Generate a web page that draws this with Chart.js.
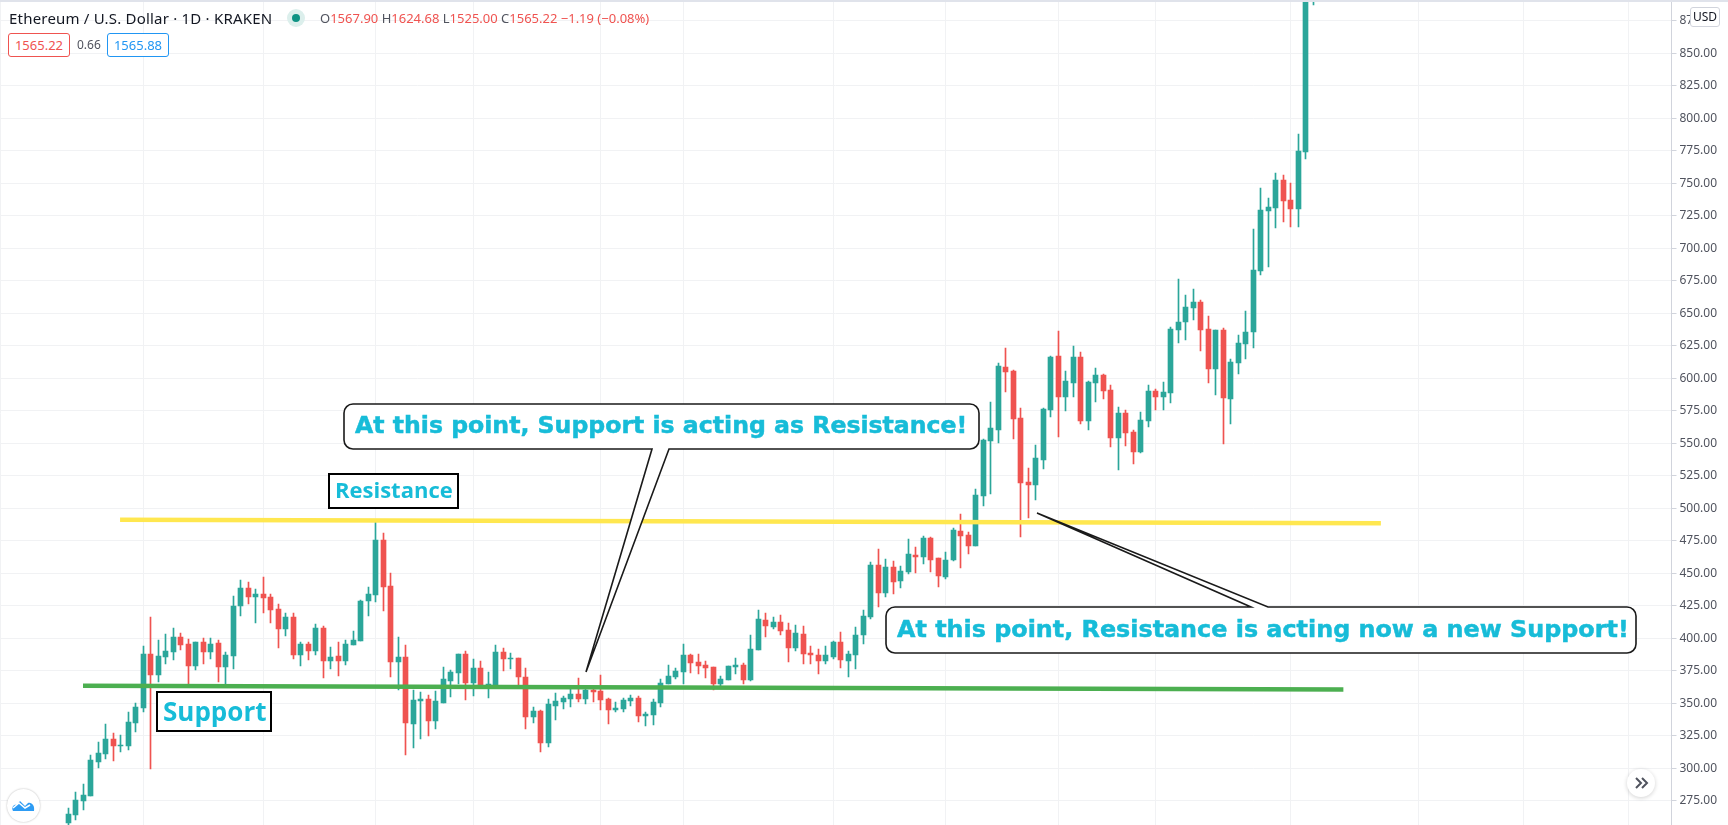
<!DOCTYPE html>
<html>
<head>
<meta charset="utf-8">
<title>Ethereum / U.S. Dollar</title>
<script src="https://cdn.jsdelivr.net/npm/chart.js@4"></script>
<style>
  html, body { margin: 0; padding: 0; background: #fff; }
  body { width: 1728px; height: 825px; overflow: hidden; position: relative; font-family: "Noto Sans", sans-serif; }
  #chart { position: absolute; left: 0; top: 0; }
  #topline { position: absolute; left: 0; top: 0; width: 1728px; height: 2px; background: #e0e3eb; }
  .hdr { position: absolute; white-space: nowrap; font-size: 13px; line-height: 18px; }
  #title { left: 9px; top: 9px; color: #131722; font-size: 15px; letter-spacing: .2px; }
  #ohlc { left: 320px; top: 9px; color: #ef5350; font-size: 13px; }
  #ohlc i { font-style: normal; color: #50535e; }
  #dot { position: absolute; left: 287px; top: 9px; width: 18px; height: 18px; border-radius: 50%; background: #dcefec; }
  #dot::after { content: ""; position: absolute; left: 5px; top: 5px; width: 8px; height: 8px; border-radius: 50%; background: #0f9384; }
  .quote { position: absolute; top: 33px; width: 60px; height: 22px; border: 1px solid; border-radius: 3px; text-align: center; font-size: 13px; line-height: 22px; background: #fff; }
  #bid { left: 8px; color: #ef5350; border-color: #ef5350; }
  #ask { left: 107px; color: #2196f3; border-color: #2196f3; }
  #spread { left: 77px; top: 36px; color: #50535e; font-size: 12px; }
  #usd { position: absolute; left: 1690px; top: 7px; width: 28px; height: 18px; border: 1px solid #d1d4dc; border-radius: 3px; background: #fff; color: #131722; font-size: 12px; line-height: 18px; text-align: center; }
  #logo { position: absolute; left: 7px; top: 789px; width: 33px; height: 33px; border-radius: 50%; background: #fff; box-shadow: 0 0 2px rgba(0,0,0,.3); }
  #more { position: absolute; left: 1627px; top: 769px; width: 28px; height: 28px; border-radius: 50%; background: #fff; box-shadow: 0 1px 4px rgba(0,0,0,.18); }
  svg { position: absolute; left: 0; top: 0; }
</style>
</head>
<body>
<canvas id="chart" width="1728" height="825"></canvas>
<div id="topline"></div>
<div class="hdr" id="title">Ethereum / U.S. Dollar · 1D · KRAKEN</div>
<div id="dot"></div>
<div class="hdr" id="ohlc"><i>O</i>1567.90 <i>H</i>1624.68 <i>L</i>1525.00 <i>C</i>1565.22 −1.19 (−0.08%)</div>
<div class="quote" id="bid">1565.22</div>
<div class="hdr" id="spread">0.66</div>
<div class="quote" id="ask">1565.88</div>
<div id="usd">USD</div>
<div id="logo"><svg width="33" height="33" viewBox="0 0 33 33"><path d="M6 22 C4 18 7 15 10 16 L13 12 L18 17 L21 14 C25 13 28 17 27 22 Z" fill="#2e9cf4"/><path d="M6 19 L12 14 L18 19 L23 16" fill="none" stroke="#fff" stroke-width="1.6"/></svg></div>
<div id="more"><svg width="28" height="28" viewBox="0 0 28 28"><path d="M9 9 L14 14 L9 19 M15 9 L20 14 L15 19" fill="none" stroke="#50535e" stroke-width="2"/></svg></div>

<script>
// Daily candles (the first and the last two run off the chart)
const opens = [258,264.3,275.1,278.9,305,311.2,322.7,317.3,317.3,335,346.6,388.1,372,385.8,389.6,401.1,395.8,378.8,397.3,389.6,
  396.5,378,386.5,425,438.8,431.9,434.2,431.9,422.6,407.3,416.5,387.3,395.8,390.4,408,382.7,386.5,382.7,395,398,
  428.8,433.4,475.7,440.3,381.9,385.8,334.3,351.9,353.5,336.6,350.4,367.3,373.5,388.1,365.8,377.3,363.5,364.2,389.6,384.2,
  385,370.4,339.6,344.2,319.7,348.1,351.2,353.5,357.3,353.5,360.4,359.6,353.5,345,345.8,351.9,354.2,340.4,341.2,350.4,
  365,370.4,374.2,387.3,381.9,379.6,378,365,368.1,378,379.6,368.1,391.1,414.2,408.8,412.7,406.5,392.7,403.4,388.8,
  387.3,382.7,385.8,397.3,382.7,387.3,402.7,416.5,456.5,435,454.9,444.2,451.1,464.2,462.6,477.2,461.9,447.3,460.3,482.6,
  479.5,471.1,509.5,551.8,560.2,608.7,605.6,569.5,520.3,518,537.2,575.6,617.1,585.6,596.4,616.3,567.2,596.4,602.5,591,
  554.1,573.3,558.7,543.3,567.2,590.2,585.6,588.6,637,643.2,654,658.6,637.8,607.1,637,584,611.7,626.3,635.5,682.4,
  728.5,730.8,752.3,737,730.1,773.9,895];
const highs = [269.4,281.7,288.1,310.4,320.4,334,327.3,325.8,343.2,350.1,394.2,416.5,398.8,403.4,408,404.2,399.6,397.3,400.4,400.4,
  398.8,389.6,432.6,444.9,443.4,438,447.2,434.2,426.5,419.6,419.6,397.3,397.3,411.1,409.6,393.4,397.3,398.8,405.7,429.6,
  439.6,489.5,481,450.3,401.1,395,360.4,358.9,356.6,359.6,378,375.8,388.1,390.4,384.2,382.7,374.2,395,392.7,388.8,
  385,377.3,347.3,345,353.5,358.1,355.8,361.9,369.6,361.2,361.2,371.9,354.2,351.2,354.2,356.6,355.8,343.5,353.5,368.8,
  379.6,377.3,395.8,388.1,388.1,382.7,378,371.2,378.8,385,381.1,402.7,421.9,419.6,416.5,418,411.9,410.4,409.6,394.2,
  391.9,394.2,398,405,390.4,408.8,421.9,458.8,468.8,461.1,459.5,455.7,476.5,470.3,478.8,478,461.9,466.5,484.9,495.7,
  481.8,514.9,553.3,581.8,611.7,623.3,606.4,577.1,531,548.7,577.1,617.1,636.3,605.6,624.8,620.2,597.9,607.9,603.3,594.8,
  577.9,575.6,560.2,574.1,594.8,591.8,597.1,639.4,676.3,664,668.6,660.1,647.8,637,638.6,614.8,633.2,651.7,714.7,746.2,
  738.5,757.7,756.2,750,787.7,900,910];
const lows = [255,260,268.2,278.9,300,307.4,305.8,312.7,314.3,328.1,343.5,299.7,366.5,380.4,383.5,391.1,362.4,375.8,380.4,384.2,
  366.5,364.2,376.5,417.3,426.5,411.9,419.6,411.9,392.7,401.9,384.2,378.8,383.5,387.3,369.6,376.5,371.2,379.6,395,398,
  417.3,428,421.1,370.4,360.4,310.4,315.8,322.7,325,330.4,350.4,355,365,352.7,355.8,361.9,354.2,361.9,375,376.5,
  364.2,330.4,335,312.7,316.6,337.3,345.8,347.3,351.2,349.6,351.2,345,334.3,343.5,343.5,348.1,335.8,332.7,333.5,347.3,
  365,368.8,365,373.5,372.7,369.6,360.4,362.7,368.1,372.7,365,367.3,391.1,401.1,407.3,402.7,382,390.4,380.4,380.4,
  372.7,380.4,384.2,377.3,370.4,376.5,395.8,415,424.2,431.9,434.2,438.8,449.6,450.3,457.2,451.1,439.6,445.7,459.5,454.2,
  465,471.1,501.8,511.1,550.3,589.4,553.3,478,492.6,506.4,530.3,570.2,554.9,574.8,585.6,564.8,560.2,581.8,584.1,547.2,
  529.5,547.9,534.1,542.6,562.5,575.6,575.6,581,627,629.4,644.7,620.9,596.3,587.1,549.4,564.8,603.2,614.8,623.2,679.3,
  685.5,715.5,720.1,716.2,716.2,768.5,887.6];
const closes = [265.1,275.8,279.7,306.6,311.7,322.7,317.3,318.1,335.8,347.3,388.1,372,386.5,390.4,401.1,395,378.8,397.3,389.6,395.8,
  378,387.3,425,438.8,431.9,434.2,431.1,421.9,407.3,416.5,387.3,395.8,390.4,408,382.7,385.8,382.7,395.8,398.8,428.8,
  434.2,475.7,439.6,381.9,385.8,335,352.7,353.5,336.6,351.9,368.8,374.2,388.1,365.8,377.3,363.5,365,389.6,384.2,385,
  370.4,339.6,344.2,319.7,349.6,351.9,354.2,357.3,353.5,360.4,358.9,352.7,345,346.6,352.7,354.2,340.4,341.9,351.2,365.8,
  371.2,375,387.3,381.1,378.8,377.3,365,368.8,378.8,379.6,368.1,391.9,415,409.6,412.7,405.7,392.7,404.2,388.1,387.3,
  382.7,387.3,397.3,383.5,388.1,402.7,417.3,456.5,435,454.9,443.4,451.9,465,462.6,477.2,460.3,448,460.3,483.4,478.8,
  471.1,510.3,552.5,561.8,609.4,604.8,568.7,519.5,518,538.7,576.4,616.3,585.6,597.9,616.3,567.2,597.1,602.5,590.2,554.1,
  573.3,557.9,543.3,567.9,590.2,585.6,589.4,637.8,643.2,654.7,658.6,637,607.1,637,584.8,612.5,627.1,635.5,683.2,729.3,
  731.6,752.3,736.2,730.1,774.6,895,905];

// Candle positions of the vertical grid lines (month and week marks)
const timeGrid = [-9,10,26,41,54,71,82,102,117,132,145,163,180,194,208];
const priceTicks = [275,300,325,350,375,400,425,450,475,500,525,550,575,600,625,650,675,700,725,750,775,800,825,850,875];

// Hand drawn trend lines [candle position, price]
const resistanceLine = [[6.9,491.3],[175,488.7]];
const supportLine = [[1.96,363.6],[170,360.7]];

const GREEN = "#2ba69a", RED = "#ef5350", TEAL = "#17bcd8", GRID = "#f1f2f4";
const candleColor = opens.map((o, i) => (closes[i] >= o ? GREEN : RED));

const wicks = lows.map((l, i) => ({ x: i, y: [l, highs[i]] }));
const bodies = opens.map((o, i) => ({ x: i, y: [o, closes[i]] }));
const toPoints = (line) => line.map((p) => ({ x: p[0], y: p[1] }));

// Keep candles on whole pixels like the original
const snapCandles = {
  id: "snapCandles",
  beforeDatasetsDraw(chart) {
    chart.data.datasets.forEach((ds, idx) => {
      if (ds.type === "line") return;
      chart.getDatasetMeta(idx).data.forEach((el) => {
        el.x = Math.floor(el.x) + 0.5;
        el.y = Math.round(el.y);
        el.base = Math.round(el.base);
        if (el.y === el.base) el.base += 1;
      });
    });
  },
};

function callout(ctx, box, tail, text, font, textX, baseline) {
  const { l, t, r, b } = box;
  const rad = 9;
  ctx.beginPath();
  ctx.moveTo(l + rad, t);
  if (tail.side === "top") {
    ctx.lineTo(tail.a, t);
    ctx.lineTo(tail.tipX, tail.tipY);
    ctx.lineTo(tail.b, t);
  }
  ctx.arcTo(r, t, r, b, rad);
  ctx.arcTo(r, b, l, b, rad);
  if (tail.side === "bottom") {
    ctx.lineTo(tail.b, b);
    ctx.lineTo(tail.tipX, tail.tipY);
    ctx.lineTo(tail.a, b);
  }
  ctx.arcTo(l, b, l, t, rad);
  ctx.arcTo(l, t, r, t, rad);
  ctx.closePath();
  ctx.fillStyle = "#fff";
  ctx.fill();
  ctx.strokeStyle = "#1a1a1a";
  ctx.lineWidth = 1.6;
  ctx.stroke();
  ctx.fillStyle = TEAL;
  ctx.strokeStyle = TEAL;
  ctx.lineWidth = 0.5;
  ctx.font = font;
  ctx.textAlign = "left";
  ctx.textBaseline = "alphabetic";
  ctx.fillText(text, textX, baseline);
  ctx.strokeText(text, textX, baseline);
}

function label(ctx, box, text, font, textX, baseline) {
  ctx.fillStyle = "#fff";
  ctx.fillRect(box.l, box.t, box.r - box.l, box.b - box.t);
  ctx.strokeStyle = "#000";
  ctx.lineWidth = 2;
  ctx.strokeRect(box.l, box.t, box.r - box.l, box.b - box.t);
  ctx.fillStyle = TEAL;
  ctx.font = font;
  ctx.textAlign = "left";
  ctx.textBaseline = "alphabetic";
  ctx.fillText(text, textX, baseline);
}

// Notes drawn on top of the chart
const notes = {
  id: "notes",
  afterDatasetsDraw(chart) {
    const ctx = chart.ctx;
    ctx.save();
    callout(ctx, { l: 344, t: 404, r: 979, b: 449 }, { side: "bottom", a: 652, b: 669, tipX: 586, tipY: 672 },
      "At this point, Support is acting as Resistance!", 'bold 23.6px "DejaVu Sans"', 355, 433);
    callout(ctx, { l: 886, t: 607, r: 1636, b: 653 }, { side: "top", a: 1251, b: 1268, tipX: 1037, tipY: 513 },
      "At this point, Resistance is acting now a new Support!", 'bold 23.85px "DejaVu Sans"', 897, 637);
    label(ctx, { l: 329, t: 474, r: 458, b: 508 }, "Resistance", 'bold 22px "Open Sans"', 335, 498);
    label(ctx, { l: 157, t: 692, r: 271, b: 731 }, "Support", 'bold 26px "Open Sans"', 163, 721);
    ctx.restore();
  },
};

new Chart(document.getElementById("chart"), {
  type: "bar",
  data: {
    datasets: [
      { label: "High-Low", data: wicks, backgroundColor: candleColor, barThickness: 1, grouped: false, order: 3 },
      { label: "Open-Close", data: bodies, backgroundColor: candleColor, barThickness: 5, grouped: false, order: 2 },
      { type: "line", label: "Resistance", data: toPoints(resistanceLine), borderColor: "#ffe74f", borderWidth: 4.5, pointRadius: 0, order: 1 },
      { type: "line", label: "Support", data: toPoints(supportLine), borderColor: "#4caf50", borderWidth: 4.5, pointRadius: 0, order: 0 },
    ],
  },
  options: {
    responsive: false,
    animation: false,
    devicePixelRatio: 1,
    layout: { padding: { top: 2, left: 0, right: 0, bottom: 0 } },
    plugins: { legend: { display: false }, tooltip: { enabled: false } },
    scales: {
      x: {
        type: "linear",
        offset: false,
        min: -9.107,
        max: 213.75,
        ticks: { display: false },
        border: { display: false },
        grid: { offset: false, color: GRID, drawTicks: false, lineWidth: 1 },
        afterBuildTicks(axis) {
          axis.ticks = timeGrid.map((v) => ({ value: v }));
        },
        afterFit(axis) {
          axis.height = 0;
          axis.paddingLeft = 0;
          axis.paddingRight = 0;
        },
      },
      y: {
        position: "right",
        min: 256.5,
        max: 889.6,
        border: { color: "#d1d4dc" },
        grid: { color: GRID, tickColor: "#d1d4dc", tickLength: 5 },
        ticks: {
          color: "#50535e",
          font: { family: "'Noto Sans'", size: 12 },
          padding: 3,
          autoSkip: false,
          callback: (v) => v.toFixed(2),
        },
        afterBuildTicks(axis) {
          axis.ticks = priceTicks.map((v) => ({ value: v }));
        },
        afterFit(axis) {
          axis.width = 56.5;
          axis.paddingTop = 0;
          axis.paddingBottom = 0;
        },
      },
    },
  },
  plugins: [snapCandles, notes],
});
</script>
</body>
</html>
